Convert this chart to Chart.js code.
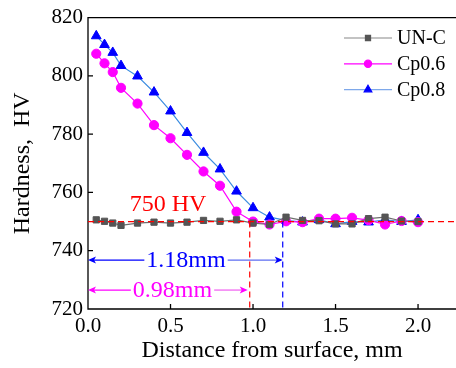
<!DOCTYPE html>
<html>
<head>
<meta charset="utf-8">
<script src="https://cdn.jsdelivr.net/npm/chart.js@4"></script>
<style>
  html, body { margin: 0; padding: 0; background: #fff; }
</style>
</head>
<body>
<canvas id="hvChart" width="456" height="368"></canvas>
<script>
// data
const distance = [0.05, 0.1, 0.15, 0.2, 0.3, 0.4, 0.5, 0.6, 0.7, 0.8, 0.9, 1.0, 1.1, 1.2, 1.3, 1.4, 1.5, 1.6, 1.7, 1.8, 1.9, 2.0];
const uncHV  = [750.6, 750.1, 749.5, 748.7, 749.5, 749.8, 749.5, 749.8, 750.4, 750.1, 750.6, 749.5, 749.0, 751.5, 750.4, 750.3, 749.2, 749.2, 751.0, 751.5, 750.2, 750.0];
const cp06HV = [807.6, 804.3, 801.3, 795.9, 790.5, 783.1, 778.6, 772.9, 767.2, 762.3, 753.4, 750.0, 749.0, 750.1, 749.8, 751.0, 751.0, 751.3, 750.5, 749.0, 750.2, 749.8];
const cp08HV = [813.7, 810.7, 808.0, 803.5, 799.9, 794.4, 787.9, 780.5, 773.7, 768.0, 760.4, 754.7, 751.5, 750.4, 749.8, 750.6, 749.2, 750.0, 749.8, 750.6, 750.0, 750.6];
const seriesNames = ['UN-C', 'Cp0.6', 'Cp0.8'];
const xTicks = [0, 0.5, 1.0, 1.5, 2.0];
const yTicks = [720, 740, 760, 780, 800, 820];

// reference levels
const hvLevel = 750;
const depth06 = 0.98;
const depth08 = 1.18;

const serif = "'Liberation Serif', 'Times New Roman', serif";

function toXY(ys) {
  return distance.map((d, i) => ({ x: d, y: ys[i] }));
}

function arrowHead(ctx, x, y, dir) {
  ctx.beginPath();
  ctx.moveTo(x, y);
  ctx.lineTo(x - dir * 8, y - 3.5);
  ctx.lineTo(x - dir * 6, y);
  ctx.lineTo(x - dir * 8, y + 3.5);
  ctx.closePath();
  ctx.fill();
}

function dimArrow(ctx, x0, x1, y, label, textX, color, color2) {
  ctx.font = '24px ' + serif;
  const w = ctx.measureText(label).width;
  ctx.lineWidth = 1.2;
  ctx.setLineDash([]);
  ctx.strokeStyle = color;
  ctx.beginPath();
  ctx.moveTo(x0 + 2, y); ctx.lineTo(textX - w / 2 - 2, y);
  ctx.stroke();
  ctx.strokeStyle = color2;
  ctx.beginPath();
  ctx.moveTo(textX + w / 2 + 2, y); ctx.lineTo(x1 - 2, y);
  ctx.stroke();
  ctx.fillStyle = color;
  arrowHead(ctx, x0, y, -1);
  arrowHead(ctx, x1, y, 1);
  ctx.textAlign = 'center';
  ctx.textBaseline = 'middle';
  ctx.fillText(label, textX, y + 1);
}

const decor = {
  id: 'decor',
  afterDatasetsDraw(chart) {
    const { ctx, chartArea: a, scales: { x, y } } = chart;
    ctx.save();

    // frame (left, top, bottom) and inward ticks
    ctx.strokeStyle = '#000';
    ctx.lineWidth = 1.3;
    ctx.beginPath();
    ctx.moveTo(a.right + 2, a.top); ctx.lineTo(a.left, a.top);
    ctx.lineTo(a.left, a.bottom); ctx.lineTo(a.right + 2, a.bottom);
    x.ticks.forEach(t => {
      const px = x.getPixelForValue(t.value);
      ctx.moveTo(px, a.bottom); ctx.lineTo(px, a.bottom - 5);
    });
    y.ticks.forEach(t => {
      const py = y.getPixelForValue(t.value);
      ctx.moveTo(a.left, py); ctx.lineTo(a.left + 5, py);
    });
    ctx.stroke();

    // 750 HV dashed guides
    const yl = y.getPixelForValue(hvLevel);
    ctx.lineWidth = 1.2;
    ctx.setLineDash([6, 4]);
    ctx.strokeStyle = '#ff0000';
    ctx.beginPath();
    ctx.moveTo(a.left, yl); ctx.lineTo(a.right, yl);
    ctx.moveTo(x.getPixelForValue(depth06), yl); ctx.lineTo(x.getPixelForValue(depth06), a.bottom);
    ctx.stroke();
    ctx.strokeStyle = '#0000ff';
    ctx.beginPath();
    ctx.moveTo(x.getPixelForValue(depth08), yl); ctx.lineTo(x.getPixelForValue(depth08), a.bottom);
    ctx.stroke();
    ctx.setLineDash([]);

    ctx.fillStyle = '#ff0000';
    ctx.font = '24px ' + serif;
    ctx.textAlign = 'center';
    ctx.textBaseline = 'middle';
    ctx.fillText('750 HV', x.getPixelForValue(0.485), y.getPixelForValue(755.7));

    dimArrow(ctx, x.getPixelForValue(0), x.getPixelForValue(depth08), y.getPixelForValue(736.8),
      '1.18mm', x.getPixelForValue(0.594), '#0000ff', '#5c6cf2');
    dimArrow(ctx, x.getPixelForValue(0), x.getPixelForValue(depth06) - 2, y.getPixelForValue(726.5),
      '0.98mm', x.getPixelForValue(0.512), '#ff00ff', '#f05cf0');

    // legend: line with marker in the middle
    chart.data.datasets.forEach((ds, i) => {
      const ly = 38 + i * 25.8;
      ctx.strokeStyle = ds.legendLine;
      ctx.lineWidth = 1.2;
      ctx.beginPath(); ctx.moveTo(344, ly); ctx.lineTo(392, ly); ctx.stroke();
      ctx.fillStyle = ds.pointBackgroundColor;
      ctx.strokeStyle = ds.pointBorderColor;
      Chart.helpers.drawPoint(ctx, { pointStyle: ds.pointStyle, radius: ds.legendRadius, rotation: 0, borderWidth: 1 }, 368, ly);
      ctx.fillStyle = '#000';
      ctx.font = '20px ' + serif;
      ctx.textAlign = 'left';
      ctx.textBaseline = 'middle';
      ctx.fillText(ds.label, 397, ly + 1);
    });
    ctx.restore();
  }
};

new Chart(document.getElementById('hvChart'), {
  type: 'line',
  data: {
    datasets: [
      { label: seriesNames[0], data: toXY(uncHV), borderColor: '#6e6e6e', legendLine: '#888', legendRadius: 3.6,
        pointStyle: 'rect', pointRadius: 4.4, pointBackgroundColor: '#555', pointBorderColor: '#555' },
      { label: seriesNames[1], data: toXY(cp06HV), borderColor: '#ff00ff', legendLine: '#ff00ff', legendRadius: 3.6,
        pointStyle: 'circle', pointRadius: 4.6, pointBackgroundColor: '#ff00ff', pointBorderColor: '#ff00ff' },
      { label: seriesNames[2], data: toXY(cp08HV), borderColor: '#3c8de0', legendLine: '#7ea8ea', legendRadius: 4.4,
        pointStyle: 'triangle', pointRadius: 5.6, pointBackgroundColor: '#0000ff', pointBorderColor: '#0000ff' }
    ]
  },
  options: {
    responsive: false,
    animation: false,
    layout: { autoPadding: false, padding: { top: 16, right: 0, bottom: 0, left: 0 } },
    elements: { line: { borderWidth: 1.2, tension: 0 }, point: { borderWidth: 1 } },
    plugins: { legend: { display: false }, tooltip: { enabled: false } },
    scales: {
      x: {
        type: 'linear', min: 0, max: 2.23,
        afterBuildTicks: s => { s.ticks = xTicks.map(v => ({ value: v })); },
        afterFit: s => { s.height = 59; },
        grid: { display: false, drawTicks: false },
        border: { display: false },
        ticks: { color: '#000', font: { family: serif, size: 21 }, padding: 5, maxRotation: 0, autoSkip: false,
          callback: v => Number(v).toFixed(1) },
        title: { display: true, text: 'Distance from surface, mm', color: '#000',
          font: { family: serif, size: 24 }, padding: { top: 0, bottom: 3 } }
      },
      y: {
        min: 720, max: 820,
        afterBuildTicks: s => { s.ticks = yTicks.map(v => ({ value: v })); },
        afterFit: s => { s.width = 88; },
        grid: { display: false, drawTicks: false },
        border: { display: false },
        ticks: { color: '#000', font: { family: serif, size: 21 }, padding: 5 },
        title: { display: true, text: 'Hardness,  HV', color: '#000',
          font: { family: serif, size: 24 }, padding: { top: 8, bottom: 0 } }
      }
    }
  },
  plugins: [decor]
});
</script>
</body>
</html>
